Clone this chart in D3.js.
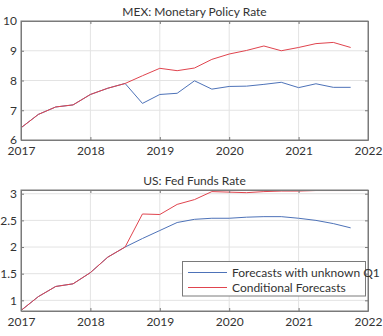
<!DOCTYPE html>
<html><head><meta charset="utf-8">
<script src="https://cdn.jsdelivr.net/npm/d3@7"></script>
<style>body{margin:0;background:#fff}svg{display:block}text{font-family:Lato,"Open Sans",sans-serif;fill:#333}</style>
</head><body><svg id="c" width="383" height="336"></svg>
<script>
const quarters = [2017,2017.25,2017.5,2017.75,2018,2018.25,2018.5,2018.75,2019,2019.25,2019.5,2019.75,2020,2020.25,2020.5,2020.75,2021,2021.25,2021.5,2021.75];
const mexUnknown = [6.41,6.86,7.11,7.18,7.53,7.74,7.90,7.23,7.53,7.57,7.99,7.71,7.80,7.81,7.87,7.94,7.76,7.89,7.77,7.77];
const mexConditional = [6.41,6.86,7.11,7.18,7.53,7.74,7.90,8.16,8.41,8.33,8.42,8.71,8.89,9.01,9.16,9.00,9.11,9.24,9.28,9.11];
const usUnknown = [0.81,1.07,1.26,1.31,1.52,1.81,2.00,2.16,2.31,2.46,2.52,2.54,2.54,2.56,2.57,2.57,2.54,2.50,2.44,2.36];
const usConditional = [0.81,1.07,1.26,1.31,1.52,1.81,2.00,2.62,2.61,2.80,2.89,3.04,3.03,3.02,3.04,3.05,3.05,3.06,3.06,3.06];
const xTicks = [2017,2018,2019,2020,2021,2022];
const mexTicks = [6,7,8,9,10];
const usTicks = [1,1.5,2,2.5,3];
const legendLabels = ["Forecasts with unknown Q1","Conditional Forecasts"];
const colors = ["#4d72b8","#e0444e"];

const svg = d3.select("#c");
function panel(top, bottom, yDomain, yTicks, title, series, legend){
  const x = d3.scaleLinear().domain([2017,2022]).range([21,368]);
  const y = d3.scaleLinear().domain(yDomain).range([bottom, top]);
  const g = svg.append("g");
  g.selectAll(".gx").data(xTicks.slice(1,-1)).join("line")
    .attr("x1",d=>x(d)).attr("x2",d=>x(d)).attr("y1",top).attr("y2",bottom)
    .attr("stroke","#e3e3e3").attr("stroke-width",1);
  g.selectAll(".gy").data(yTicks.filter(d=>y(d)>top+1 && y(d)<bottom-1)).join("line")
    .attr("x1",21).attr("x2",368).attr("y1",d=>y(d)).attr("y2",d=>y(d))
    .attr("stroke","#e3e3e3").attr("stroke-width",1);
  const line = d3.line().x((d,i)=>x(quarters[i])).y(d=>y(d));
  series.forEach((s,k)=>{
    g.append("path").datum(s).attr("d",line).attr("fill","none")
      .attr("stroke",colors[k]).attr("stroke-width",1);
  });
  const ax = d3.axisBottom(x).tickValues(xTicks).tickFormat(d3.format("d")).tickSizeInner(-3).tickSizeOuter(0).tickPadding(6.5);
  const axT = d3.axisTop(x).tickValues(xTicks).tickFormat("").tickSizeInner(-3).tickSizeOuter(0);
  const ay = d3.axisLeft(y).tickValues(yTicks).tickFormat(d=>d).tickSizeInner(-3).tickSizeOuter(0).tickPadding(4);
  const ayR = d3.axisRight(y).tickValues(yTicks).tickFormat("").tickSizeInner(-3).tickSizeOuter(0);
  const style = a => { a.selectAll("path,line").attr("stroke","#7a7a7a"); a.selectAll("text").attr("font-size","12px").attr("fill","#333").attr("font-family","Lato,'Open Sans',sans-serif"); };
  g.append("g").attr("transform",`translate(0,${bottom})`).call(ax).call(style);
  g.append("g").attr("transform",`translate(0,${top})`).call(axT).call(style);
  g.append("g").attr("transform",`translate(21,0)`).call(ay).call(style);
  g.append("g").attr("transform",`translate(368,0)`).call(ayR).call(style);
  g.append("rect").attr("x",21).attr("y",top).attr("width",347).attr("height",bottom-top)
    .attr("fill","none").attr("stroke","#7a7a7a").attr("stroke-width",1);
  g.append("text").attr("x",194.5).attr("y",top-5).attr("text-anchor","middle")
    .attr("font-size","12px").attr("fill","#222").text(title);
  if(legend){
    const lg = g.append("g");
    lg.append("rect").attr("x",182.5).attr("y",261.5).attr("width",183).attr("height",34.5)
      .attr("fill","#fff").attr("stroke","#7a7a7a");
    legendLabels.forEach((t,k)=>{
      const yy = 272.5 + k*15;
      lg.append("line").attr("x1",188).attr("x2",227).attr("y1",yy).attr("y2",yy).attr("stroke",colors[k]);
      lg.append("text").attr("x",232).attr("y",yy+4).attr("font-size","12px").attr("fill","#222").text(t);
    });
  }
}
panel(21,140,[6,10],mexTicks,"MEX: Monetary Policy Rate",[mexUnknown,mexConditional],false);
panel(190,311,[0.8,3.07],usTicks,"US: Fed Funds Rate",[usUnknown,usConditional],true);
</script></body></html>
